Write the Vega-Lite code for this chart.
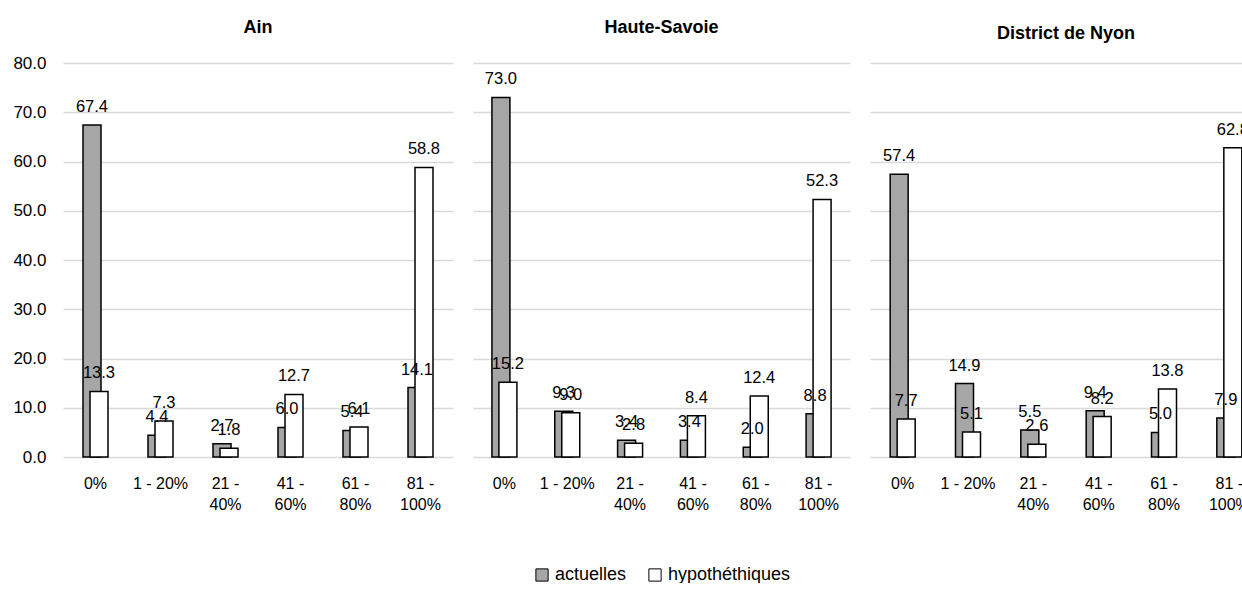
{
  "$schema": "https://vega.github.io/schema/vega-lite/v6.json",
  "autosize": {"type": "pad"},
  "padding": {"left": 12, "top": 18, "right": -20, "bottom": -1},
  "config": {
    "font": "Liberation Sans, Arial, sans-serif",
    "view": {"stroke": null},
    "title": {"fontSize": 18, "fontWeight": "bold", "color": "#000000", "anchor": "middle"},
    "axis": {"labelColor": "#000000", "gridColor": "#d9d9d9", "gridWidth": 1.5},
    "legend": {"layout": {"bottom": {"anchor": "middle"}}}
  },
  "resolve": {"legend": {"color": "independent"}},
  "data": {
    "values": [
      {"region": "Ain", "cat": "0%", "series": "actuelles", "value": 67.4},
      {"region": "Ain", "cat": "1 - 20%", "series": "actuelles", "value": 4.4},
      {"region": "Ain", "cat": "21 - 40%", "series": "actuelles", "value": 2.7},
      {"region": "Ain", "cat": "41 - 60%", "series": "actuelles", "value": 6.0},
      {"region": "Ain", "cat": "61 - 80%", "series": "actuelles", "value": 5.4},
      {"region": "Ain", "cat": "81 - 100%", "series": "actuelles", "value": 14.1},
      {"region": "Ain", "cat": "0%", "series": "hypothéthiques", "value": 13.3},
      {"region": "Ain", "cat": "1 - 20%", "series": "hypothéthiques", "value": 7.3},
      {"region": "Ain", "cat": "21 - 40%", "series": "hypothéthiques", "value": 1.8},
      {"region": "Ain", "cat": "41 - 60%", "series": "hypothéthiques", "value": 12.7},
      {"region": "Ain", "cat": "61 - 80%", "series": "hypothéthiques", "value": 6.1},
      {"region": "Ain", "cat": "81 - 100%", "series": "hypothéthiques", "value": 58.8},
      {"region": "Haute-Savoie", "cat": "0%", "series": "actuelles", "value": 73.0},
      {"region": "Haute-Savoie", "cat": "1 - 20%", "series": "actuelles", "value": 9.3},
      {"region": "Haute-Savoie", "cat": "21 - 40%", "series": "actuelles", "value": 3.4},
      {"region": "Haute-Savoie", "cat": "41 - 60%", "series": "actuelles", "value": 3.4},
      {"region": "Haute-Savoie", "cat": "61 - 80%", "series": "actuelles", "value": 2.0},
      {"region": "Haute-Savoie", "cat": "81 - 100%", "series": "actuelles", "value": 8.8},
      {"region": "Haute-Savoie", "cat": "0%", "series": "hypothéthiques", "value": 15.2},
      {"region": "Haute-Savoie", "cat": "1 - 20%", "series": "hypothéthiques", "value": 9.0},
      {"region": "Haute-Savoie", "cat": "21 - 40%", "series": "hypothéthiques", "value": 2.8},
      {"region": "Haute-Savoie", "cat": "41 - 60%", "series": "hypothéthiques", "value": 8.4},
      {"region": "Haute-Savoie", "cat": "61 - 80%", "series": "hypothéthiques", "value": 12.4},
      {"region": "Haute-Savoie", "cat": "81 - 100%", "series": "hypothéthiques", "value": 52.3},
      {"region": "District de Nyon", "cat": "0%", "series": "actuelles", "value": 57.4},
      {"region": "District de Nyon", "cat": "1 - 20%", "series": "actuelles", "value": 14.9},
      {"region": "District de Nyon", "cat": "21 - 40%", "series": "actuelles", "value": 5.5},
      {"region": "District de Nyon", "cat": "41 - 60%", "series": "actuelles", "value": 9.4},
      {"region": "District de Nyon", "cat": "61 - 80%", "series": "actuelles", "value": 5.0},
      {"region": "District de Nyon", "cat": "81 - 100%", "series": "actuelles", "value": 7.9},
      {"region": "District de Nyon", "cat": "0%", "series": "hypothéthiques", "value": 7.7},
      {"region": "District de Nyon", "cat": "1 - 20%", "series": "hypothéthiques", "value": 5.1},
      {"region": "District de Nyon", "cat": "21 - 40%", "series": "hypothéthiques", "value": 2.6},
      {"region": "District de Nyon", "cat": "41 - 60%", "series": "hypothéthiques", "value": 8.2},
      {"region": "District de Nyon", "cat": "61 - 80%", "series": "hypothéthiques", "value": 13.8},
      {"region": "District de Nyon", "cat": "81 - 100%", "series": "hypothéthiques", "value": 62.8}
    ]
  },
  "spacing": 20,
  "hconcat": [
    {
      "width": 390, "height": 394,
      "title": {"text": "Ain", "offset": 17},
      "transform": [{"filter": "datum.region === 'Ain'"}],
      "encoding": {
        "x": {"field": "cat", "type": "nominal", "title": null,
          "sort": ["0%", "1 - 20%", "21 - 40%", "41 - 60%", "61 - 80%", "81 - 100%"],
          "scale": {"paddingInner": 0, "paddingOuter": 0},
          "axis": {"labelAngle": 0, "ticks": false, "domain": false, "labelPadding": 18, "labelFontSize": 16, "labelLineHeight": 21,
            "labelExpr": "indexof(datum.label, ' - ') > 0 && datum.label != '1 - 20%' ? [slice(datum.label, 0, indexof(datum.label, ' - ') + 2), slice(datum.label, indexof(datum.label, ' - ') + 3)] : datum.label"}},
        "y": {"field": "value", "type": "quantitative", "title": null,
          "scale": {"domain": [0, 80], "nice": false},
          "axis": {"values": [0, 10, 20, 30, 40, 50, 60, 70, 80], "format": ".1f", "ticks": false, "domain": false, "labelPadding": 17, "labelFontSize": 17, "minExtent": 0}}
      },
      "layer": [
        {"transform": [{"filter": "datum.series === 'actuelles'"}],
          "mark": {"type": "bar", "width": 18, "xOffset": -3.5, "stroke": "#000000", "strokeWidth": 1.5},
          "encoding": {"color": {"field": "series", "type": "nominal", "scale": {"domain": ["actuelles", "hypothéthiques"], "range": ["#a6a6a6", "#ffffff"]}, "legend": null}}},
        {"transform": [{"filter": "datum.series === 'hypothéthiques'"}],
          "mark": {"type": "bar", "width": 18, "xOffset": 3.5, "stroke": "#000000", "strokeWidth": 1.5},
          "encoding": {"color": {"field": "series", "type": "nominal", "legend": null}}},
        {"transform": [{"filter": "datum.series === 'actuelles'"}],
          "mark": {"type": "text", "dx": -3.5, "dy": -13, "baseline": "alphabetic", "fontSize": 16.5, "color": "#000000"},
          "encoding": {"text": {"field": "value", "type": "quantitative", "format": ".1f"}}},
        {"transform": [{"filter": "datum.series === 'hypothéthiques'"}],
          "mark": {"type": "text", "dx": 3.5, "dy": -13, "baseline": "alphabetic", "fontSize": 16.5, "color": "#000000"},
          "encoding": {"text": {"field": "value", "type": "quantitative", "format": ".1f"}}}
      ]
    },
    {
      "width": 377, "height": 394,
      "title": {"text": "Haute-Savoie", "offset": 26.5},
      "transform": [{"filter": "datum.region === 'Haute-Savoie'"}],
      "encoding": {
        "x": {"field": "cat", "type": "nominal", "title": null,
          "sort": ["0%", "1 - 20%", "21 - 40%", "41 - 60%", "61 - 80%", "81 - 100%"],
          "scale": {"paddingInner": 0, "paddingOuter": 0},
          "axis": {"labelAngle": 0, "ticks": false, "domain": false, "labelPadding": 18, "labelFontSize": 16, "labelLineHeight": 21,
            "labelExpr": "indexof(datum.label, ' - ') > 0 && datum.label != '1 - 20%' ? [slice(datum.label, 0, indexof(datum.label, ' - ') + 2), slice(datum.label, indexof(datum.label, ' - ') + 3)] : datum.label"}},
        "y": {"field": "value", "type": "quantitative", "title": null,
          "scale": {"domain": [0, 80], "nice": false},
          "axis": {"values": [0, 10, 20, 30, 40, 50, 60, 70, 80], "labels": false, "ticks": false, "domain": false, "minExtent": 0, "maxExtent": 0}}
      },
      "layer": [
        {"transform": [{"filter": "datum.series === 'actuelles'"}],
          "mark": {"type": "bar", "width": 18, "xOffset": -3.5, "stroke": "#000000", "strokeWidth": 1.5},
          "encoding": {"color": {"field": "series", "type": "nominal",
            "legend": {"orient": "bottom", "offset": 54, "direction": "horizontal", "title": null, "padding": 0, "symbolType": "square", "symbolSize": 150, "symbolStrokeColor": "#000000", "symbolStrokeWidth": 1, "labelFontSize": 18, "labelOffset": 4, "columnPadding": 19, "labelColor": "#000000"}}}},
        {"transform": [{"filter": "datum.series === 'hypothéthiques'"}],
          "mark": {"type": "bar", "width": 18, "xOffset": 3.5, "stroke": "#000000", "strokeWidth": 1.5},
          "encoding": {"color": {"field": "series", "type": "nominal"}}},
        {"transform": [{"filter": "datum.series === 'actuelles'"}],
          "mark": {"type": "text", "dx": -3.5, "dy": -13, "baseline": "alphabetic", "fontSize": 16.5, "color": "#000000"},
          "encoding": {"text": {"field": "value", "type": "quantitative", "format": ".1f"}}},
        {"transform": [{"filter": "datum.series === 'hypothéthiques'"}],
          "mark": {"type": "text", "dx": 3.5, "dy": -13, "baseline": "alphabetic", "fontSize": 16.5, "color": "#000000"},
          "encoding": {"text": {"field": "value", "type": "quantitative", "format": ".1f"}}}
      ]
    },
    {
      "width": 392, "height": 394,
      "title": {"text": "District  de Nyon", "offset": 20.5},
      "transform": [{"filter": "datum.region === 'District de Nyon'"}],
      "encoding": {
        "x": {"field": "cat", "type": "nominal", "title": null,
          "sort": ["0%", "1 - 20%", "21 - 40%", "41 - 60%", "61 - 80%", "81 - 100%"],
          "scale": {"paddingInner": 0, "paddingOuter": 0},
          "axis": {"labelAngle": 0, "ticks": false, "domain": false, "labelPadding": 18, "labelFontSize": 16, "labelLineHeight": 21,
            "labelExpr": "indexof(datum.label, ' - ') > 0 && datum.label != '1 - 20%' ? [slice(datum.label, 0, indexof(datum.label, ' - ') + 2), slice(datum.label, indexof(datum.label, ' - ') + 3)] : datum.label"}},
        "y": {"field": "value", "type": "quantitative", "title": null,
          "scale": {"domain": [0, 80], "nice": false},
          "axis": {"values": [0, 10, 20, 30, 40, 50, 60, 70, 80], "labels": false, "ticks": false, "domain": false, "minExtent": 0, "maxExtent": 0}}
      },
      "layer": [
        {"transform": [{"filter": "datum.series === 'actuelles'"}],
          "mark": {"type": "bar", "width": 18, "xOffset": -3.5, "stroke": "#000000", "strokeWidth": 1.5},
          "encoding": {"color": {"field": "series", "type": "nominal", "legend": null}}},
        {"transform": [{"filter": "datum.series === 'hypothéthiques'"}],
          "mark": {"type": "bar", "width": 18, "xOffset": 3.5, "stroke": "#000000", "strokeWidth": 1.5},
          "encoding": {"color": {"field": "series", "type": "nominal", "legend": null}}},
        {"transform": [{"filter": "datum.series === 'actuelles'"}],
          "mark": {"type": "text", "dx": -3.5, "dy": -13, "baseline": "alphabetic", "fontSize": 16.5, "color": "#000000"},
          "encoding": {"text": {"field": "value", "type": "quantitative", "format": ".1f"}}},
        {"transform": [{"filter": "datum.series === 'hypothéthiques'"}],
          "mark": {"type": "text", "dx": 3.5, "dy": -13, "baseline": "alphabetic", "fontSize": 16.5, "color": "#000000"},
          "encoding": {"text": {"field": "value", "type": "quantitative", "format": ".1f"}}}
      ]
    }
  ]
}
